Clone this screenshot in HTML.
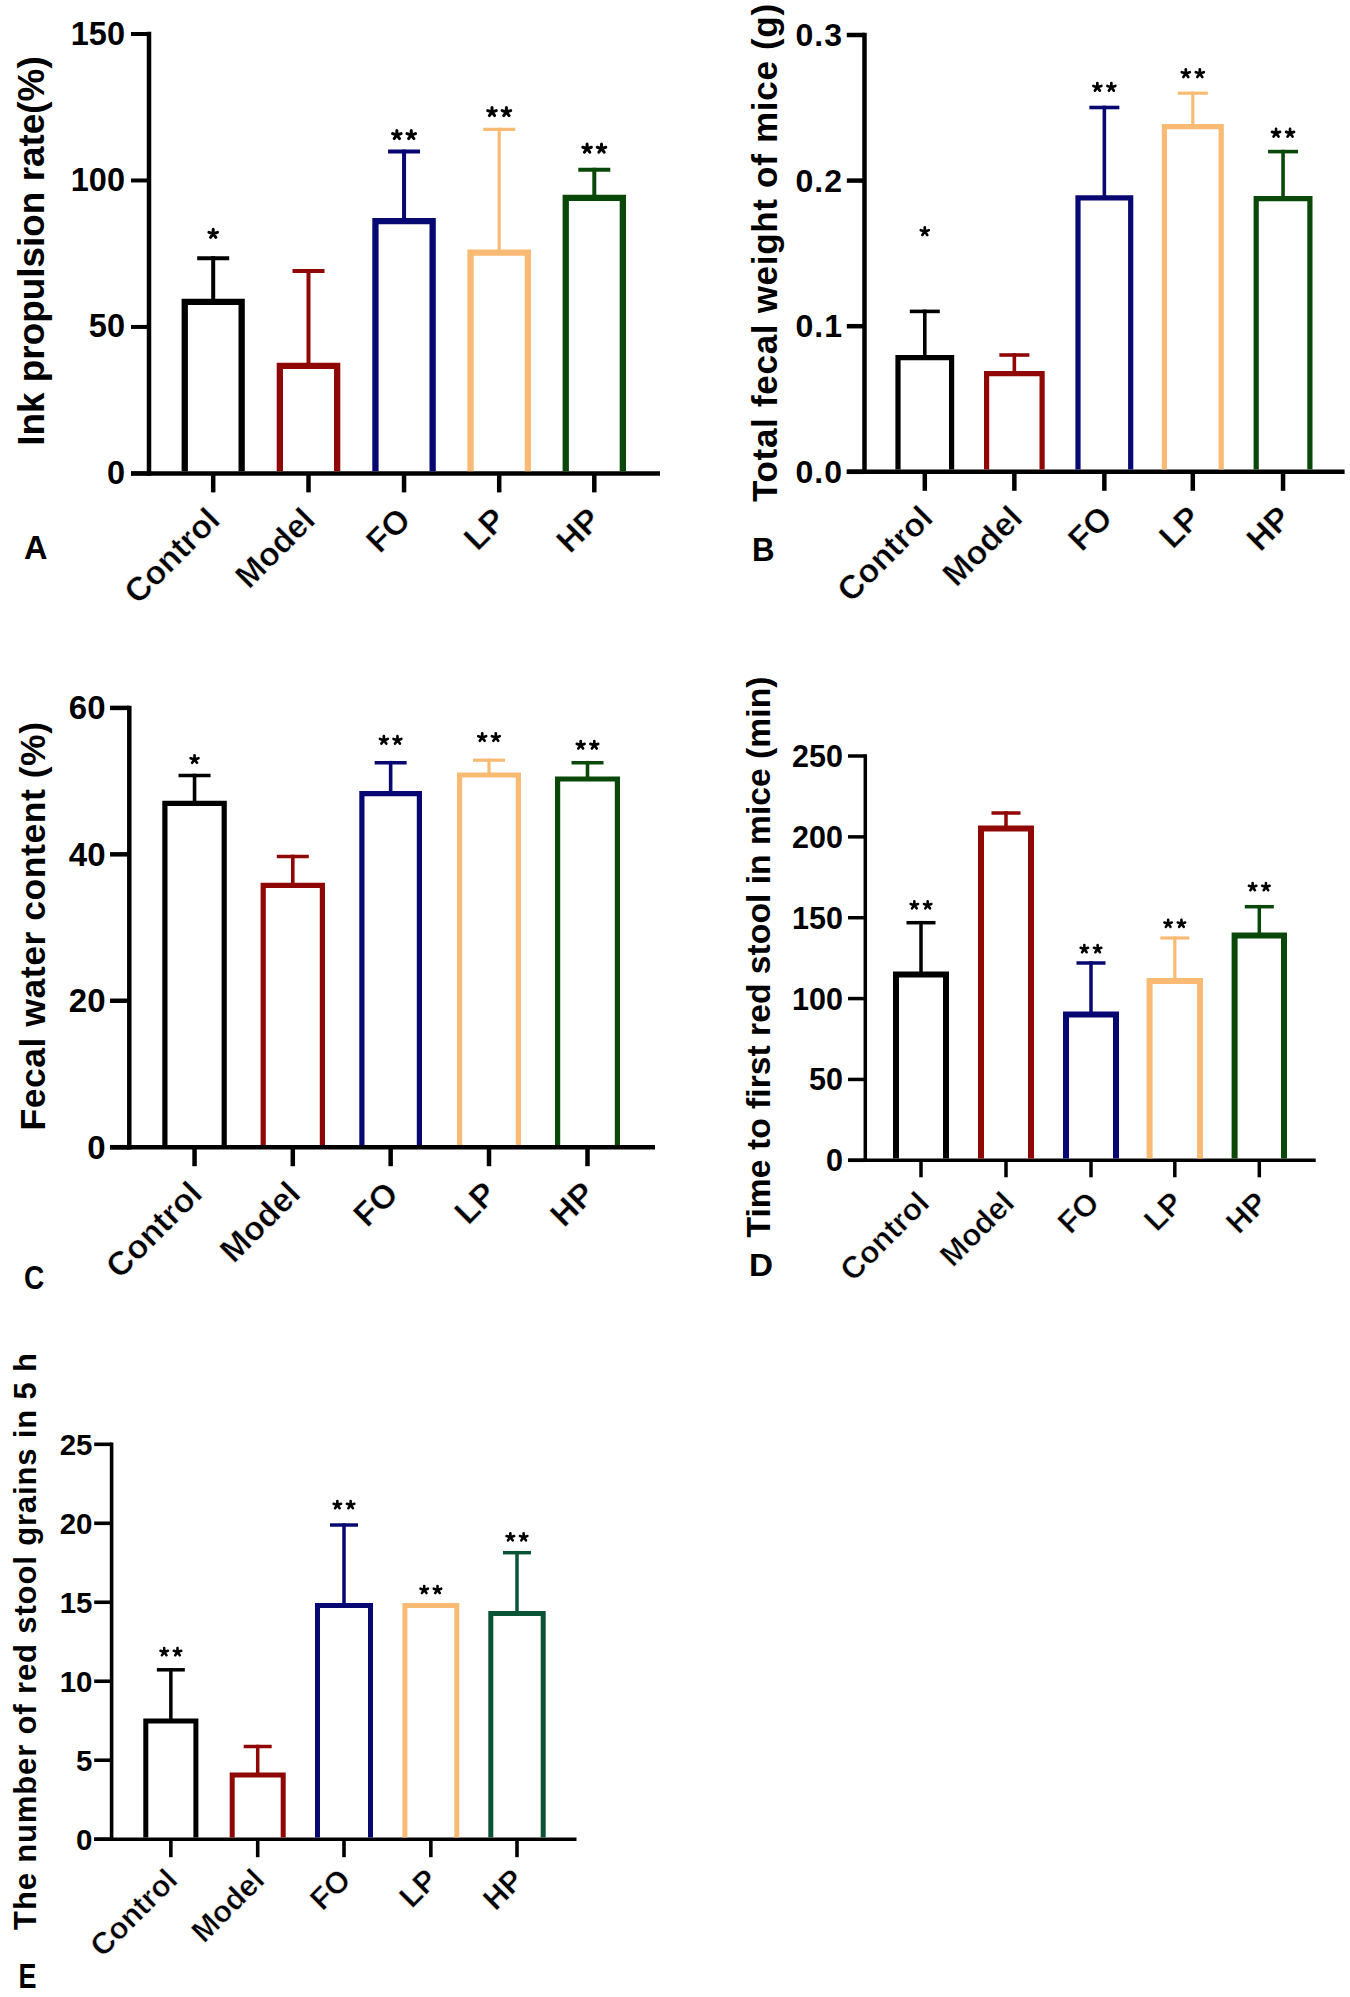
<!DOCTYPE html><html><head><meta charset="utf-8"><style>html,body{margin:0;padding:0;background:#fff;}svg{display:block;}text{font-family:"Liberation Sans",sans-serif;font-weight:bold;fill:#000;}</style></head><body>
<svg width="1350" height="1997" viewBox="0 0 1350 1997">
<rect width="1350" height="1997" fill="#fff"/>
<g>
<line x1="149" y1="31.75" x2="149" y2="475.65" stroke="#000" stroke-width="4.5"/>
<line x1="131" y1="473.4" x2="660" y2="473.4" stroke="#000" stroke-width="4.5"/>
<line x1="131" y1="34.0" x2="149" y2="34.0" stroke="#000" stroke-width="4"/>
<text x="125" y="44.5" text-anchor="end" font-size="32.5" letter-spacing="0">150</text>
<line x1="131" y1="180.46666666666667" x2="149" y2="180.46666666666667" stroke="#000" stroke-width="4"/>
<text x="125" y="190.96666666666667" text-anchor="end" font-size="32.5" letter-spacing="0">100</text>
<line x1="131" y1="326.93333333333334" x2="149" y2="326.93333333333334" stroke="#000" stroke-width="4"/>
<text x="125" y="337.43333333333334" text-anchor="end" font-size="32.5" letter-spacing="0">50</text>
<line x1="131" y1="473.3999999999999" x2="149" y2="473.3999999999999" stroke="#000" stroke-width="4"/>
<text x="125" y="483.8999999999999" text-anchor="end" font-size="32.5" letter-spacing="0">0</text>
<line x1="213.2" y1="301.95" x2="213.2" y2="256.2" stroke="#000000" stroke-width="4"/>
<line x1="197.2" y1="258.2" x2="229.2" y2="258.2" stroke="#000000" stroke-width="4"/>
<path d="M184.75 471.15V301.95H241.65V471.15" fill="none" stroke="#000000" stroke-width="6.3" stroke-linejoin="miter"/>
<line x1="213.2" y1="473.4" x2="213.2" y2="492.4" stroke="#000" stroke-width="4.5"/>
<path d="M213.20 233.70L213.20 229.20M213.20 233.70L217.48 232.31M213.20 233.70L215.85 237.34M213.20 233.70L210.55 237.34M213.20 233.70L208.92 232.31" stroke="#000" stroke-width="3" stroke-linecap="round" fill="none"/>
<line x1="308.5" y1="365.84999999999997" x2="308.5" y2="269.0" stroke="#900806" stroke-width="4"/>
<line x1="292.5" y1="271" x2="324.5" y2="271" stroke="#900806" stroke-width="4"/>
<path d="M279.84999999999997 471.15V365.84999999999997H337.15000000000003V471.15" fill="none" stroke="#900806" stroke-width="6.3" stroke-linejoin="miter"/>
<line x1="308.5" y1="473.4" x2="308.5" y2="492.4" stroke="#000" stroke-width="4.5"/>
<line x1="404.05" y1="221.15" x2="404.05" y2="149.6" stroke="#080872" stroke-width="4"/>
<line x1="388.05" y1="151.6" x2="420.05" y2="151.6" stroke="#080872" stroke-width="4"/>
<path d="M375.45 471.15V221.15H432.65000000000003V471.15" fill="none" stroke="#080872" stroke-width="6.3" stroke-linejoin="miter"/>
<line x1="404.05" y1="473.4" x2="404.05" y2="492.4" stroke="#000" stroke-width="4.5"/>
<path d="M396.85 135.00L396.85 130.50M396.85 135.00L401.13 133.61M396.85 135.00L399.50 138.64M396.85 135.00L394.20 138.64M396.85 135.00L392.57 133.61" stroke="#000" stroke-width="3" stroke-linecap="round" fill="none"/>
<path d="M411.25 135.00L411.25 130.50M411.25 135.00L415.53 133.61M411.25 135.00L413.90 138.64M411.25 135.00L408.60 138.64M411.25 135.00L406.97 133.61" stroke="#000" stroke-width="3" stroke-linecap="round" fill="none"/>
<line x1="499.2" y1="252.65" x2="499.2" y2="127.70000000000002" stroke="#f9bb74" stroke-width="3.2"/>
<line x1="483.2" y1="129.3" x2="515.2" y2="129.3" stroke="#f9bb74" stroke-width="3.2"/>
<path d="M470.54999999999995 471.15V252.65H527.85V471.15" fill="none" stroke="#f9bb74" stroke-width="6.3" stroke-linejoin="miter"/>
<line x1="499.2" y1="473.4" x2="499.2" y2="492.4" stroke="#000" stroke-width="4.5"/>
<path d="M492.00 112.00L492.00 107.50M492.00 112.00L496.28 110.61M492.00 112.00L494.65 115.64M492.00 112.00L489.35 115.64M492.00 112.00L487.72 110.61" stroke="#000" stroke-width="3" stroke-linecap="round" fill="none"/>
<path d="M506.40 112.00L506.40 107.50M506.40 112.00L510.68 110.61M506.40 112.00L509.05 115.64M506.40 112.00L503.75 115.64M506.40 112.00L502.12 110.61" stroke="#000" stroke-width="3" stroke-linecap="round" fill="none"/>
<line x1="594.3" y1="197.95000000000002" x2="594.3" y2="167.8" stroke="#0a480a" stroke-width="4"/>
<line x1="578.3" y1="169.8" x2="610.3" y2="169.8" stroke="#0a480a" stroke-width="4"/>
<path d="M565.75 471.15V197.95000000000002H622.85V471.15" fill="none" stroke="#0a480a" stroke-width="6.3" stroke-linejoin="miter"/>
<line x1="594.3" y1="473.4" x2="594.3" y2="492.4" stroke="#000" stroke-width="4.5"/>
<path d="M587.10 148.60L587.10 144.10M587.10 148.60L591.38 147.21M587.10 148.60L589.75 152.24M587.10 148.60L584.45 152.24M587.10 148.60L582.82 147.21" stroke="#000" stroke-width="3" stroke-linecap="round" fill="none"/>
<path d="M601.50 148.60L601.50 144.10M601.50 148.60L605.78 147.21M601.50 148.60L604.15 152.24M601.50 148.60L598.85 152.24M601.50 148.60L597.22 147.21" stroke="#000" stroke-width="3" stroke-linecap="round" fill="none"/>
<text x="221.7" y="521.9" text-anchor="end" font-size="33.3" letter-spacing="0" stroke="#fff" stroke-width="0.45" transform="rotate(-45 221.7 521.9)">Control</text>
<text x="317.0" y="521.9" text-anchor="end" font-size="33.3" letter-spacing="0" stroke="#fff" stroke-width="0.45" transform="rotate(-45 317.0 521.9)">Model</text>
<text x="412.55" y="521.9" text-anchor="end" font-size="33.3" letter-spacing="0" stroke="#fff" stroke-width="0.45" transform="rotate(-45 412.55 521.9)">FO</text>
<text x="507.7" y="521.9" text-anchor="end" font-size="33.3" letter-spacing="0" stroke="#fff" stroke-width="0.45" transform="rotate(-45 507.7 521.9)">LP</text>
<text x="602.8" y="521.9" text-anchor="end" font-size="33.3" letter-spacing="0" stroke="#fff" stroke-width="0.45" transform="rotate(-45 602.8 521.9)">HP</text>
<text x="31.5" y="251" text-anchor="middle" dominant-baseline="central" font-size="36.9" letter-spacing="0" transform="rotate(-90 31.5 251)">Ink propulsion rate(%)</text>
<text x="0" y="0" font-size="32.5" transform="translate(24 559.4) scale(1 1)">A</text>
</g>
<g>
<line x1="864.5" y1="32.75" x2="864.5" y2="474.05" stroke="#000" stroke-width="4.5"/>
<line x1="846.8" y1="471.8" x2="1344.6" y2="471.8" stroke="#000" stroke-width="4.5"/>
<line x1="846.8" y1="35.0" x2="864.5" y2="35.0" stroke="#000" stroke-width="4.5"/>
<text x="843" y="46.0" text-anchor="end" font-size="32" letter-spacing="1">0.3</text>
<line x1="846.8" y1="180.6" x2="864.5" y2="180.6" stroke="#000" stroke-width="4.5"/>
<text x="843" y="191.6" text-anchor="end" font-size="32" letter-spacing="1">0.2</text>
<line x1="846.8" y1="326.2" x2="864.5" y2="326.2" stroke="#000" stroke-width="4.5"/>
<text x="843" y="337.2" text-anchor="end" font-size="32" letter-spacing="1">0.1</text>
<line x1="846.8" y1="471.8" x2="864.5" y2="471.8" stroke="#000" stroke-width="4.5"/>
<text x="843" y="482.8" text-anchor="end" font-size="32" letter-spacing="1">0.0</text>
<line x1="924.8" y1="357.6" x2="924.8" y2="309.59999999999997" stroke="#000000" stroke-width="3.6"/>
<line x1="909.8" y1="311.4" x2="939.8" y2="311.4" stroke="#000000" stroke-width="3.6"/>
<path d="M898.0 469.55V357.6H951.6V469.55" fill="none" stroke="#000000" stroke-width="5.2" stroke-linejoin="miter"/>
<line x1="924.8" y1="471.8" x2="924.8" y2="490.8" stroke="#000" stroke-width="4.5"/>
<path d="M924.80 231.55L924.80 227.35M924.80 231.55L928.79 230.25M924.80 231.55L927.27 234.95M924.80 231.55L922.33 234.95M924.80 231.55L920.81 230.25" stroke="#000" stroke-width="2.7" stroke-linecap="round" fill="none"/>
<line x1="1014.35" y1="373.6" x2="1014.35" y2="353.2" stroke="#900806" stroke-width="3.6"/>
<line x1="999.35" y1="355" x2="1029.35" y2="355" stroke="#900806" stroke-width="3.6"/>
<path d="M986.6 469.55V373.6H1042.1000000000001V469.55" fill="none" stroke="#900806" stroke-width="5.2" stroke-linejoin="miter"/>
<line x1="1014.35" y1="471.8" x2="1014.35" y2="490.8" stroke="#000" stroke-width="4.5"/>
<line x1="1104.35" y1="197.79999999999998" x2="1104.35" y2="105.7" stroke="#080872" stroke-width="3.6"/>
<line x1="1089.35" y1="107.5" x2="1119.35" y2="107.5" stroke="#080872" stroke-width="3.6"/>
<path d="M1078.0 469.55V197.79999999999998H1130.7V469.55" fill="none" stroke="#080872" stroke-width="5.2" stroke-linejoin="miter"/>
<line x1="1104.35" y1="471.8" x2="1104.35" y2="490.8" stroke="#000" stroke-width="4.5"/>
<path d="M1097.35 87.25L1097.35 83.05M1097.35 87.25L1101.34 85.95M1097.35 87.25L1099.82 90.65M1097.35 87.25L1094.88 90.65M1097.35 87.25L1093.36 85.95" stroke="#000" stroke-width="2.7" stroke-linecap="round" fill="none"/>
<path d="M1111.35 87.25L1111.35 83.05M1111.35 87.25L1115.34 85.95M1111.35 87.25L1113.82 90.65M1111.35 87.25L1108.88 90.65M1111.35 87.25L1107.36 85.95" stroke="#000" stroke-width="2.7" stroke-linecap="round" fill="none"/>
<line x1="1192.8" y1="126.6" x2="1192.8" y2="91.60000000000001" stroke="#f9bb74" stroke-width="3.2"/>
<line x1="1177.8" y1="93.2" x2="1207.8" y2="93.2" stroke="#f9bb74" stroke-width="3.2"/>
<path d="M1164.3999999999999 469.55V126.6H1221.2V469.55" fill="none" stroke="#f9bb74" stroke-width="5.2" stroke-linejoin="miter"/>
<line x1="1192.8" y1="471.8" x2="1192.8" y2="490.8" stroke="#000" stroke-width="4.5"/>
<path d="M1185.80 73.55L1185.80 69.35M1185.80 73.55L1189.79 72.25M1185.80 73.55L1188.27 76.95M1185.80 73.55L1183.33 76.95M1185.80 73.55L1181.81 72.25" stroke="#000" stroke-width="2.7" stroke-linecap="round" fill="none"/>
<path d="M1199.80 73.55L1199.80 69.35M1199.80 73.55L1203.79 72.25M1199.80 73.55L1202.27 76.95M1199.80 73.55L1197.33 76.95M1199.80 73.55L1195.81 72.25" stroke="#000" stroke-width="2.7" stroke-linecap="round" fill="none"/>
<line x1="1283.05" y1="198.6" x2="1283.05" y2="149.79999999999998" stroke="#0a480a" stroke-width="3.6"/>
<line x1="1268.05" y1="151.6" x2="1298.05" y2="151.6" stroke="#0a480a" stroke-width="3.6"/>
<path d="M1256.1999999999998 469.55V198.6H1309.9V469.55" fill="none" stroke="#0a480a" stroke-width="5.2" stroke-linejoin="miter"/>
<line x1="1283.05" y1="471.8" x2="1283.05" y2="490.8" stroke="#000" stroke-width="4.5"/>
<path d="M1276.05 133.15L1276.05 128.95M1276.05 133.15L1280.04 131.85M1276.05 133.15L1278.52 136.55M1276.05 133.15L1273.58 136.55M1276.05 133.15L1272.06 131.85" stroke="#000" stroke-width="2.7" stroke-linecap="round" fill="none"/>
<path d="M1290.05 133.15L1290.05 128.95M1290.05 133.15L1294.04 131.85M1290.05 133.15L1292.52 136.55M1290.05 133.15L1287.58 136.55M1290.05 133.15L1286.06 131.85" stroke="#000" stroke-width="2.7" stroke-linecap="round" fill="none"/>
<text x="934.8" y="520.0" text-anchor="end" font-size="33.3" letter-spacing="0" stroke="#fff" stroke-width="0.45" transform="rotate(-45 934.8 520.0)">Control</text>
<text x="1024.35" y="520.0" text-anchor="end" font-size="33.3" letter-spacing="0" stroke="#fff" stroke-width="0.45" transform="rotate(-45 1024.35 520.0)">Model</text>
<text x="1114.35" y="520.0" text-anchor="end" font-size="33.3" letter-spacing="0" stroke="#fff" stroke-width="0.45" transform="rotate(-45 1114.35 520.0)">FO</text>
<text x="1202.8" y="520.0" text-anchor="end" font-size="33.3" letter-spacing="0" stroke="#fff" stroke-width="0.45" transform="rotate(-45 1202.8 520.0)">LP</text>
<text x="1293.05" y="520.0" text-anchor="end" font-size="33.3" letter-spacing="0" stroke="#fff" stroke-width="0.45" transform="rotate(-45 1293.05 520.0)">HP</text>
<text x="764.5" y="252.6" text-anchor="middle" dominant-baseline="central" font-size="35" letter-spacing="0.7" transform="rotate(-90 764.5 252.6)">Total fecal weight of mice (g)</text>
<text x="0" y="0" font-size="33.6" transform="translate(752 560.6) scale(0.93 1)">B</text>
</g>
<g>
<line x1="129.3" y1="705.65" x2="129.3" y2="1149.45" stroke="#000" stroke-width="4.5"/>
<line x1="110" y1="1147.2" x2="655" y2="1147.2" stroke="#000" stroke-width="4.5"/>
<line x1="110" y1="707.9" x2="129.3" y2="707.9" stroke="#000" stroke-width="4.5"/>
<text x="105.5" y="719.4" text-anchor="end" font-size="33" letter-spacing="0">60</text>
<line x1="110" y1="854.3333333333334" x2="129.3" y2="854.3333333333334" stroke="#000" stroke-width="4.5"/>
<text x="105.5" y="865.8333333333334" text-anchor="end" font-size="33" letter-spacing="0">40</text>
<line x1="110" y1="1000.7666666666667" x2="129.3" y2="1000.7666666666667" stroke="#000" stroke-width="4.5"/>
<text x="105.5" y="1012.2666666666667" text-anchor="end" font-size="33" letter-spacing="0">20</text>
<line x1="110" y1="1147.2" x2="129.3" y2="1147.2" stroke="#000" stroke-width="4.5"/>
<text x="105.5" y="1158.7" text-anchor="end" font-size="33" letter-spacing="0">0</text>
<line x1="194.55" y1="803.4" x2="194.55" y2="773.7" stroke="#000000" stroke-width="3.6"/>
<line x1="178.55" y1="775.5" x2="210.55" y2="775.5" stroke="#000000" stroke-width="3.6"/>
<path d="M164.9 1144.95V803.4H224.20000000000002V1144.95" fill="none" stroke="#000000" stroke-width="5.2" stroke-linejoin="miter"/>
<line x1="194.55" y1="1147.2" x2="194.55" y2="1166.2" stroke="#000" stroke-width="4.5"/>
<path d="M194.55 759.45L194.55 755.35M194.55 759.45L198.45 758.18M194.55 759.45L196.96 762.77M194.55 759.45L192.14 762.77M194.55 759.45L190.65 758.18" stroke="#000" stroke-width="2.7" stroke-linecap="round" fill="none"/>
<line x1="292.8" y1="885.4" x2="292.8" y2="854.7" stroke="#900806" stroke-width="3.6"/>
<line x1="276.8" y1="856.5" x2="308.8" y2="856.5" stroke="#900806" stroke-width="3.6"/>
<path d="M263.20000000000005 1144.95V885.4H322.4V1144.95" fill="none" stroke="#900806" stroke-width="5.2" stroke-linejoin="miter"/>
<line x1="292.8" y1="1147.2" x2="292.8" y2="1166.2" stroke="#000" stroke-width="4.5"/>
<line x1="390.65" y1="793.6" x2="390.65" y2="760.9000000000001" stroke="#080872" stroke-width="3.6"/>
<line x1="374.65" y1="762.7" x2="406.65" y2="762.7" stroke="#080872" stroke-width="3.6"/>
<path d="M361.90000000000003 1144.95V793.6H419.4V1144.95" fill="none" stroke="#080872" stroke-width="5.2" stroke-linejoin="miter"/>
<line x1="390.65" y1="1147.2" x2="390.65" y2="1166.2" stroke="#000" stroke-width="4.5"/>
<path d="M383.85 740.25L383.85 736.15M383.85 740.25L387.75 738.98M383.85 740.25L386.26 743.57M383.85 740.25L381.44 743.57M383.85 740.25L379.95 738.98" stroke="#000" stroke-width="2.7" stroke-linecap="round" fill="none"/>
<path d="M397.45 740.25L397.45 736.15M397.45 740.25L401.35 738.98M397.45 740.25L399.86 743.57M397.45 740.25L395.04 743.57M397.45 740.25L393.55 738.98" stroke="#000" stroke-width="2.7" stroke-linecap="round" fill="none"/>
<line x1="489.0" y1="775.0" x2="489.0" y2="758.6" stroke="#f9bb74" stroke-width="3.2"/>
<line x1="473.0" y1="760.2" x2="505.0" y2="760.2" stroke="#f9bb74" stroke-width="3.2"/>
<path d="M459.6 1144.95V775.0H518.4V1144.95" fill="none" stroke="#f9bb74" stroke-width="5.2" stroke-linejoin="miter"/>
<line x1="489.0" y1="1147.2" x2="489.0" y2="1166.2" stroke="#000" stroke-width="4.5"/>
<path d="M482.20 737.45L482.20 733.35M482.20 737.45L486.10 736.18M482.20 737.45L484.61 740.77M482.20 737.45L479.79 740.77M482.20 737.45L478.30 736.18" stroke="#000" stroke-width="2.7" stroke-linecap="round" fill="none"/>
<path d="M495.80 737.45L495.80 733.35M495.80 737.45L499.70 736.18M495.80 737.45L498.21 740.77M495.80 737.45L493.39 740.77M495.80 737.45L491.90 736.18" stroke="#000" stroke-width="2.7" stroke-linecap="round" fill="none"/>
<line x1="587.5" y1="779.0" x2="587.5" y2="760.9000000000001" stroke="#0a480a" stroke-width="3.6"/>
<line x1="571.5" y1="762.7" x2="603.5" y2="762.7" stroke="#0a480a" stroke-width="3.6"/>
<path d="M557.6 1144.95V779.0H617.4V1144.95" fill="none" stroke="#0a480a" stroke-width="5.2" stroke-linejoin="miter"/>
<line x1="587.5" y1="1147.2" x2="587.5" y2="1166.2" stroke="#000" stroke-width="4.5"/>
<path d="M580.70 745.15L580.70 741.05M580.70 745.15L584.60 743.88M580.70 745.15L583.11 748.47M580.70 745.15L578.29 748.47M580.70 745.15L576.80 743.88" stroke="#000" stroke-width="2.7" stroke-linecap="round" fill="none"/>
<path d="M594.30 745.15L594.30 741.05M594.30 745.15L598.20 743.88M594.30 745.15L596.71 748.47M594.30 745.15L591.89 748.47M594.30 745.15L590.40 743.88" stroke="#000" stroke-width="2.7" stroke-linecap="round" fill="none"/>
<text x="204.05" y="1195.7" text-anchor="end" font-size="33.5" letter-spacing="0" stroke="#fff" stroke-width="0.45" transform="rotate(-45 204.05 1195.7)">Control</text>
<text x="302.3" y="1195.7" text-anchor="end" font-size="33.5" letter-spacing="0" stroke="#fff" stroke-width="0.45" transform="rotate(-45 302.3 1195.7)">Model</text>
<text x="400.15" y="1195.7" text-anchor="end" font-size="33.5" letter-spacing="0" stroke="#fff" stroke-width="0.45" transform="rotate(-45 400.15 1195.7)">FO</text>
<text x="498.5" y="1195.7" text-anchor="end" font-size="33.5" letter-spacing="0" stroke="#fff" stroke-width="0.45" transform="rotate(-45 498.5 1195.7)">LP</text>
<text x="597.0" y="1195.7" text-anchor="end" font-size="33.5" letter-spacing="0" stroke="#fff" stroke-width="0.45" transform="rotate(-45 597.0 1195.7)">HP</text>
<text x="32.5" y="926" text-anchor="middle" dominant-baseline="central" font-size="35.5" letter-spacing="0.55" transform="rotate(-90 32.5 926)">Fecal water content (%)</text>
<text x="0" y="0" font-size="33.5" transform="translate(24 1289.4) scale(0.84 1)">C</text>
</g>
<g>
<line x1="865.3" y1="754.25" x2="865.3" y2="1162.05" stroke="#000" stroke-width="3.5"/>
<line x1="848" y1="1160.3" x2="1315.7" y2="1160.3" stroke="#000" stroke-width="3.5"/>
<line x1="848" y1="756.0" x2="865.3" y2="756.0" stroke="#000" stroke-width="3.5"/>
<text x="843" y="767.0" text-anchor="end" font-size="30.5" letter-spacing="0">250</text>
<line x1="848" y1="836.86" x2="865.3" y2="836.86" stroke="#000" stroke-width="3.5"/>
<text x="843" y="847.86" text-anchor="end" font-size="30.5" letter-spacing="0">200</text>
<line x1="848" y1="917.72" x2="865.3" y2="917.72" stroke="#000" stroke-width="3.5"/>
<text x="843" y="928.72" text-anchor="end" font-size="30.5" letter-spacing="0">150</text>
<line x1="848" y1="998.5799999999999" x2="865.3" y2="998.5799999999999" stroke="#000" stroke-width="3.5"/>
<text x="843" y="1009.5799999999999" text-anchor="end" font-size="30.5" letter-spacing="0">100</text>
<line x1="848" y1="1079.44" x2="865.3" y2="1079.44" stroke="#000" stroke-width="3.5"/>
<text x="843" y="1090.44" text-anchor="end" font-size="30.5" letter-spacing="0">50</text>
<line x1="848" y1="1160.3" x2="865.3" y2="1160.3" stroke="#000" stroke-width="3.5"/>
<text x="843" y="1171.3" text-anchor="end" font-size="30.5" letter-spacing="0">0</text>
<line x1="921.0" y1="974.4" x2="921.0" y2="920.95" stroke="#000000" stroke-width="3.5"/>
<line x1="906.5" y1="922.7" x2="935.5" y2="922.7" stroke="#000000" stroke-width="3.5"/>
<path d="M896.0 1158.55V974.4H946.0V1158.55" fill="none" stroke="#000000" stroke-width="6" stroke-linejoin="miter"/>
<line x1="921.0" y1="1160.3" x2="921.0" y2="1177.3" stroke="#000" stroke-width="3.5"/>
<path d="M914.35 905.20L914.35 901.30M914.35 905.20L918.06 903.99M914.35 905.20L916.64 908.36M914.35 905.20L912.06 908.36M914.35 905.20L910.64 903.99" stroke="#000" stroke-width="2.6" stroke-linecap="round" fill="none"/>
<path d="M927.65 905.20L927.65 901.30M927.65 905.20L931.36 903.99M927.65 905.20L929.94 908.36M927.65 905.20L925.36 908.36M927.65 905.20L923.94 903.99" stroke="#000" stroke-width="2.6" stroke-linecap="round" fill="none"/>
<line x1="1006.0" y1="828.4" x2="1006.0" y2="811.25" stroke="#900806" stroke-width="3.5"/>
<line x1="991.5" y1="813" x2="1020.5" y2="813" stroke="#900806" stroke-width="3.5"/>
<path d="M981.0 1158.55V828.4H1031.0V1158.55" fill="none" stroke="#900806" stroke-width="6" stroke-linejoin="miter"/>
<line x1="1006.0" y1="1160.3" x2="1006.0" y2="1177.3" stroke="#000" stroke-width="3.5"/>
<line x1="1091.0" y1="1014.4" x2="1091.0" y2="961.25" stroke="#080872" stroke-width="3.5"/>
<line x1="1076.5" y1="963" x2="1105.5" y2="963" stroke="#080872" stroke-width="3.5"/>
<path d="M1066.0 1158.55V1014.4H1116.0V1158.55" fill="none" stroke="#080872" stroke-width="6" stroke-linejoin="miter"/>
<line x1="1091.0" y1="1160.3" x2="1091.0" y2="1177.3" stroke="#000" stroke-width="3.5"/>
<path d="M1084.35 949.00L1084.35 945.10M1084.35 949.00L1088.06 947.79M1084.35 949.00L1086.64 952.16M1084.35 949.00L1082.06 952.16M1084.35 949.00L1080.64 947.79" stroke="#000" stroke-width="2.6" stroke-linecap="round" fill="none"/>
<path d="M1097.65 949.00L1097.65 945.10M1097.65 949.00L1101.36 947.79M1097.65 949.00L1099.94 952.16M1097.65 949.00L1095.36 952.16M1097.65 949.00L1093.94 947.79" stroke="#000" stroke-width="2.6" stroke-linecap="round" fill="none"/>
<line x1="1174.8" y1="980.9" x2="1174.8" y2="936.4" stroke="#f9bb74" stroke-width="3.2"/>
<line x1="1160.3" y1="938" x2="1189.3" y2="938" stroke="#f9bb74" stroke-width="3.2"/>
<path d="M1149.6 1158.55V980.9H1200.0V1158.55" fill="none" stroke="#f9bb74" stroke-width="6" stroke-linejoin="miter"/>
<line x1="1174.8" y1="1160.3" x2="1174.8" y2="1177.3" stroke="#000" stroke-width="3.5"/>
<path d="M1168.15 923.70L1168.15 919.80M1168.15 923.70L1171.86 922.49M1168.15 923.70L1170.44 926.86M1168.15 923.70L1165.86 926.86M1168.15 923.70L1164.44 922.49" stroke="#000" stroke-width="2.6" stroke-linecap="round" fill="none"/>
<path d="M1181.45 923.70L1181.45 919.80M1181.45 923.70L1185.16 922.49M1181.45 923.70L1183.74 926.86M1181.45 923.70L1179.16 926.86M1181.45 923.70L1177.74 922.49" stroke="#000" stroke-width="2.6" stroke-linecap="round" fill="none"/>
<line x1="1259.3" y1="935.4" x2="1259.3" y2="904.95" stroke="#0a480a" stroke-width="3.5"/>
<line x1="1244.8" y1="906.7" x2="1273.8" y2="906.7" stroke="#0a480a" stroke-width="3.5"/>
<path d="M1234.6 1158.55V935.4H1284.0V1158.55" fill="none" stroke="#0a480a" stroke-width="6" stroke-linejoin="miter"/>
<line x1="1259.3" y1="1160.3" x2="1259.3" y2="1177.3" stroke="#000" stroke-width="3.5"/>
<path d="M1252.65 887.00L1252.65 883.10M1252.65 887.00L1256.36 885.79M1252.65 887.00L1254.94 890.16M1252.65 887.00L1250.36 890.16M1252.65 887.00L1248.94 885.79" stroke="#000" stroke-width="2.6" stroke-linecap="round" fill="none"/>
<path d="M1265.95 887.00L1265.95 883.10M1265.95 887.00L1269.66 885.79M1265.95 887.00L1268.24 890.16M1265.95 887.00L1263.66 890.16M1265.95 887.00L1262.24 885.79" stroke="#000" stroke-width="2.6" stroke-linecap="round" fill="none"/>
<text x="931.0" y="1204.8" text-anchor="end" font-size="31" letter-spacing="0" stroke="#fff" stroke-width="0.45" transform="rotate(-45 931.0 1204.8)">Control</text>
<text x="1016.0" y="1204.8" text-anchor="end" font-size="31" letter-spacing="0" stroke="#fff" stroke-width="0.45" transform="rotate(-45 1016.0 1204.8)">Model</text>
<text x="1101.0" y="1204.8" text-anchor="end" font-size="31" letter-spacing="0" stroke="#fff" stroke-width="0.45" transform="rotate(-45 1101.0 1204.8)">FO</text>
<text x="1184.8" y="1204.8" text-anchor="end" font-size="31" letter-spacing="0" stroke="#fff" stroke-width="0.45" transform="rotate(-45 1184.8 1204.8)">LP</text>
<text x="1269.3" y="1204.8" text-anchor="end" font-size="31" letter-spacing="0" stroke="#fff" stroke-width="0.45" transform="rotate(-45 1269.3 1204.8)">HP</text>
<text x="757.5" y="957" text-anchor="middle" dominant-baseline="central" font-size="33.7" letter-spacing="0" transform="rotate(-90 757.5 957)">Time to first red stool in mice (min)</text>
<text x="0" y="0" font-size="32" transform="translate(749 1276.4) scale(1.04 1)">D</text>
</g>
<g>
<line x1="111.6" y1="1442.5" x2="111.6" y2="1841.0" stroke="#000" stroke-width="3.6"/>
<line x1="94.2" y1="1839.2" x2="576.5" y2="1839.2" stroke="#000" stroke-width="3.6"/>
<line x1="94.2" y1="1444.3" x2="111.6" y2="1444.3" stroke="#000" stroke-width="3.6"/>
<text x="92.5" y="1455.3" text-anchor="end" font-size="29.5" letter-spacing="0">25</text>
<line x1="94.2" y1="1523.28" x2="111.6" y2="1523.28" stroke="#000" stroke-width="3.6"/>
<text x="92.5" y="1534.28" text-anchor="end" font-size="29.5" letter-spacing="0">20</text>
<line x1="94.2" y1="1602.26" x2="111.6" y2="1602.26" stroke="#000" stroke-width="3.6"/>
<text x="92.5" y="1613.26" text-anchor="end" font-size="29.5" letter-spacing="0">15</text>
<line x1="94.2" y1="1681.24" x2="111.6" y2="1681.24" stroke="#000" stroke-width="3.6"/>
<text x="92.5" y="1692.24" text-anchor="end" font-size="29.5" letter-spacing="0">10</text>
<line x1="94.2" y1="1760.22" x2="111.6" y2="1760.22" stroke="#000" stroke-width="3.6"/>
<text x="92.5" y="1771.22" text-anchor="end" font-size="29.5" letter-spacing="0">5</text>
<line x1="94.2" y1="1839.2" x2="111.6" y2="1839.2" stroke="#000" stroke-width="3.6"/>
<text x="92.5" y="1850.2" text-anchor="end" font-size="29.5" letter-spacing="0">0</text>
<line x1="170.85000000000002" y1="1721.1" x2="170.85000000000002" y2="1668.05" stroke="#000000" stroke-width="3.5"/>
<line x1="156.85000000000002" y1="1669.8" x2="184.85000000000002" y2="1669.8" stroke="#000000" stroke-width="3.5"/>
<path d="M145.8 1837.4V1721.1H195.9V1837.4" fill="none" stroke="#000000" stroke-width="5" stroke-linejoin="miter"/>
<line x1="170.85000000000002" y1="1839.2" x2="170.85000000000002" y2="1857.2" stroke="#000" stroke-width="3.6"/>
<path d="M164.20 1652.00L164.20 1648.10M164.20 1652.00L167.91 1650.79M164.20 1652.00L166.49 1655.16M164.20 1652.00L161.91 1655.16M164.20 1652.00L160.49 1650.79" stroke="#000" stroke-width="2.6" stroke-linecap="round" fill="none"/>
<path d="M177.50 1652.00L177.50 1648.10M177.50 1652.00L181.21 1650.79M177.50 1652.00L179.79 1655.16M177.50 1652.00L175.21 1655.16M177.50 1652.00L173.79 1650.79" stroke="#000" stroke-width="2.6" stroke-linecap="round" fill="none"/>
<line x1="257.7" y1="1775.0" x2="257.7" y2="1744.75" stroke="#900806" stroke-width="3.5"/>
<line x1="243.7" y1="1746.5" x2="271.7" y2="1746.5" stroke="#900806" stroke-width="3.5"/>
<path d="M232.2 1837.4V1775.0H283.2V1837.4" fill="none" stroke="#900806" stroke-width="5" stroke-linejoin="miter"/>
<line x1="257.7" y1="1839.2" x2="257.7" y2="1857.2" stroke="#000" stroke-width="3.6"/>
<line x1="344.0" y1="1605.5" x2="344.0" y2="1523.25" stroke="#080872" stroke-width="3.5"/>
<line x1="330.0" y1="1525" x2="358.0" y2="1525" stroke="#080872" stroke-width="3.5"/>
<path d="M317.5 1837.4V1605.5H370.5V1837.4" fill="none" stroke="#080872" stroke-width="5" stroke-linejoin="miter"/>
<line x1="344.0" y1="1839.2" x2="344.0" y2="1857.2" stroke="#000" stroke-width="3.6"/>
<path d="M337.35 1505.00L337.35 1501.10M337.35 1505.00L341.06 1503.79M337.35 1505.00L339.64 1508.16M337.35 1505.00L335.06 1508.16M337.35 1505.00L333.64 1503.79" stroke="#000" stroke-width="2.6" stroke-linecap="round" fill="none"/>
<path d="M350.65 1505.00L350.65 1501.10M350.65 1505.00L354.36 1503.79M350.65 1505.00L352.94 1508.16M350.65 1505.00L348.36 1508.16M350.65 1505.00L346.94 1503.79" stroke="#000" stroke-width="2.6" stroke-linecap="round" fill="none"/>
<path d="M404.9 1837.4V1605.5H456.8V1837.4" fill="none" stroke="#f9bb74" stroke-width="5" stroke-linejoin="miter"/>
<line x1="430.85" y1="1839.2" x2="430.85" y2="1857.2" stroke="#000" stroke-width="3.6"/>
<path d="M424.20 1589.90L424.20 1586.00M424.20 1589.90L427.91 1588.69M424.20 1589.90L426.49 1593.06M424.20 1589.90L421.91 1593.06M424.20 1589.90L420.49 1588.69" stroke="#000" stroke-width="2.6" stroke-linecap="round" fill="none"/>
<path d="M437.50 1589.90L437.50 1586.00M437.50 1589.90L441.21 1588.69M437.50 1589.90L439.79 1593.06M437.50 1589.90L435.21 1593.06M437.50 1589.90L433.79 1588.69" stroke="#000" stroke-width="2.6" stroke-linecap="round" fill="none"/>
<line x1="517.0" y1="1613.5" x2="517.0" y2="1550.95" stroke="#0a5436" stroke-width="3.5"/>
<line x1="503.0" y1="1552.7" x2="531.0" y2="1552.7" stroke="#0a5436" stroke-width="3.5"/>
<path d="M490.8 1837.4V1613.5H543.2V1837.4" fill="none" stroke="#0a5436" stroke-width="5" stroke-linejoin="miter"/>
<line x1="517.0" y1="1839.2" x2="517.0" y2="1857.2" stroke="#000" stroke-width="3.6"/>
<path d="M510.35 1537.20L510.35 1533.30M510.35 1537.20L514.06 1535.99M510.35 1537.20L512.64 1540.36M510.35 1537.20L508.06 1540.36M510.35 1537.20L506.64 1535.99" stroke="#000" stroke-width="2.6" stroke-linecap="round" fill="none"/>
<path d="M523.65 1537.20L523.65 1533.30M523.65 1537.20L527.36 1535.99M523.65 1537.20L525.94 1540.36M523.65 1537.20L521.36 1540.36M523.65 1537.20L519.94 1535.99" stroke="#000" stroke-width="2.6" stroke-linecap="round" fill="none"/>
<text x="179.35000000000002" y="1881.7" text-anchor="end" font-size="30.5" letter-spacing="0" stroke="#fff" stroke-width="0.45" transform="rotate(-45 179.35000000000002 1881.7)">Control</text>
<text x="266.2" y="1881.7" text-anchor="end" font-size="30.5" letter-spacing="0" stroke="#fff" stroke-width="0.45" transform="rotate(-45 266.2 1881.7)">Model</text>
<text x="352.5" y="1881.7" text-anchor="end" font-size="30.5" letter-spacing="0" stroke="#fff" stroke-width="0.45" transform="rotate(-45 352.5 1881.7)">FO</text>
<text x="439.35" y="1881.7" text-anchor="end" font-size="30.5" letter-spacing="0" stroke="#fff" stroke-width="0.45" transform="rotate(-45 439.35 1881.7)">LP</text>
<text x="525.5" y="1881.7" text-anchor="end" font-size="30.5" letter-spacing="0" stroke="#fff" stroke-width="0.45" transform="rotate(-45 525.5 1881.7)">HP</text>
<text x="25.6" y="1641" text-anchor="middle" dominant-baseline="central" font-size="31" letter-spacing="0.86" transform="rotate(-90 25.6 1641)">The number of red stool grains in 5 h</text>
<text x="0" y="0" font-size="35" transform="translate(18.4 1987.6) scale(0.77 1)">E</text>
</g>
</svg></body></html>
